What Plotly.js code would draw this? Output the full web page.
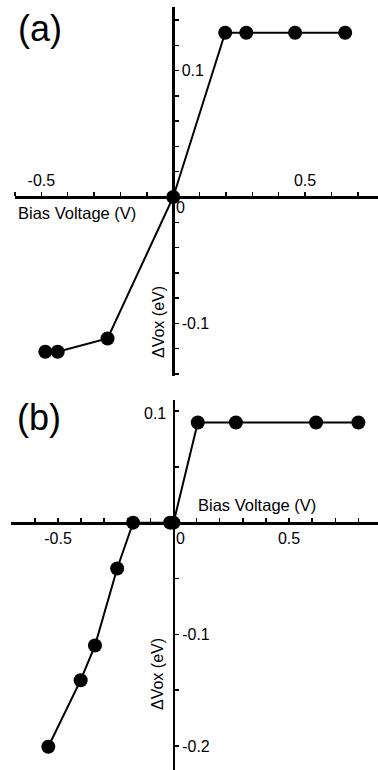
<!DOCTYPE html>
<html>
<head>
<meta charset="utf-8">
<script src="https://cdn.plot.ly/plotly-3.0.1.min.js"></script>
<style>html,body{margin:0;padding:0;background:#fff;}#chart{width:378px;height:770px;}</style>
</head>
<body>
<div id="chart"></div>
<script>
// Panel (a) data
const biasA = [-0.485, -0.438, -0.249, 0, 0.197, 0.277, 0.462, 0.652];
const dVoxA = [-0.1225, -0.1225, -0.112, 0, 0.130, 0.130, 0.130, 0.130];
// Panel (b) data
const biasB = [-0.542, -0.402, -0.340, -0.244, -0.175, -0.015, 0, 0.105, 0.270, 0.617, 0.800];
const dVoxB = [-0.2006, -0.141, -0.110, -0.041, 0, 0, 0, 0.0896, 0.0896, 0.0896, 0.0896];

// Tick definitions
const xTickValsA = [-0.6, -0.5, -0.4, -0.3, -0.2, -0.1, 0, 0.1, 0.2, 0.3, 0.4, 0.5, 0.6, 0.7];
const xTickTextA = ['', '-0.5', '', '', '', '', '', '', '', '', '', '0.5', '', ''];
const yTickValsA = [-0.14, -0.12, -0.1, -0.08, -0.06, -0.04, -0.02, 0, 0.02, 0.04, 0.06, 0.08, 0.1, 0.12, 0.14];
const yTickTextA = ['', '', '-0.1', '', '', '', '', '', '', '', '', '', '0.1', '', ''];
const xTickValsB = [-0.7, -0.6, -0.5, -0.4, -0.3, -0.2, -0.1, 0, 0.1, 0.2, 0.3, 0.4, 0.5, 0.6, 0.7, 0.8];
const xTickTextB = ['', '', '-0.5', '', '', '', '', '', '', '', '', '', '0.5', '', '', ''];
const yTickValsB = [-0.2, -0.15, -0.1, -0.05, 0, 0.05, 0.1];
const yTickTextB = ['-0.2', '', '-0.1', '', '', '', ''];

const xTitle = 'Bias Voltage (V)';
const yTitle = '\u0394Vox (eV)';

const FONT = 'Liberation Sans, Arial, sans-serif';
const W = 378, H = 770;
const px = v => v / W;
const py = v => 1 - v / H;

const traceStyle = {
  mode: 'lines+markers',
  line: {color: '#000', width: 2},
  marker: {color: '#000', size: 14},
  hoverinfo: 'skip',
  showlegend: false,
  cliponaxis: false
};

const traces = [
  Object.assign({x: biasA, y: dVoxA, xaxis: 'x', yaxis: 'y'}, traceStyle),
  Object.assign({x: biasB, y: dVoxB, xaxis: 'x2', yaxis: 'y2'}, traceStyle)
];

const axisCommon = {
  showgrid: false, zeroline: false, showline: true,
  linecolor: '#000', linewidth: 2.5,
  tickcolor: '#000', tickwidth: 1.5, ticklen: 4,
  tickmode: 'array',
  tickfont: {family: FONT, size: 16, color: '#000'},
  fixedrange: true
};

const layout = {
  width: W, height: H,
  margin: {l: 0, r: 0, t: 0, b: 0, pad: 0},
  paper_bgcolor: '#fff', plot_bgcolor: 'rgba(0,0,0,0)',
  xaxis: Object.assign({}, axisCommon, {
    domain: [px(15), 1], range: [-0.6, 0.7765],
    anchor: 'free', position: py(197), side: 'top', ticks: 'outside',
    tickvals: xTickValsA, ticktext: xTickTextA
  }),
  yaxis: Object.assign({}, axisCommon, {
    domain: [py(376), py(7)], range: [-0.1417, 0.1504],
    anchor: 'free', position: px(173), side: 'right', ticks: 'outside',
    tickvals: yTickValsA, ticktext: yTickTextA
  }),
  xaxis2: Object.assign({}, axisCommon, {
    domain: [px(11), 1], range: [-0.7035, 0.885],
    anchor: 'free', position: py(523), side: 'bottom', ticks: 'inside',
    tickvals: xTickValsB, ticktext: xTickTextB
  }),
  yaxis2: Object.assign({}, axisCommon, {
    domain: [0, py(400)], range: [-0.2214, 0.1098],
    anchor: 'free', position: px(173.5), side: 'right', ticks: 'outside',
    tickvals: yTickValsB, ticktext: yTickTextB
  }),
  annotations: [
    {text: '(a)', x: px(40), y: py(29), font: {family: FONT, size: 36, color: '#000'}},
    {text: '(b)', x: px(39), y: py(418), font: {family: FONT, size: 36, color: '#000'}},
    {text: xTitle, x: px(77), y: py(213), font: {family: FONT, size: 16.5, color: '#000'}},
    {text: xTitle, x: px(257), y: py(505), font: {family: FONT, size: 16.5, color: '#000'}},
    {text: yTitle, x: px(158), y: py(322), textangle: -90, font: {family: FONT, size: 16, color: '#000'}},
    {text: yTitle, x: px(157), y: py(674), textangle: -90, font: {family: FONT, size: 16, color: '#000'}},
    {text: '0', x: px(180), y: py(208), font: {family: FONT, size: 16, color: '#000'}},
    {text: '0', x: px(180), y: py(538), font: {family: FONT, size: 16, color: '#000'}},
    {text: '0.1', x: px(155), y: py(413), font: {family: FONT, size: 16, color: '#000'}}
  ].map(a => Object.assign({xref: 'paper', yref: 'paper', showarrow: false, xanchor: 'center', yanchor: 'middle'}, a))
};

Plotly.newPlot('chart', traces, layout, {displayModeBar: false, staticPlot: true});
</script>
</body>
</html>
